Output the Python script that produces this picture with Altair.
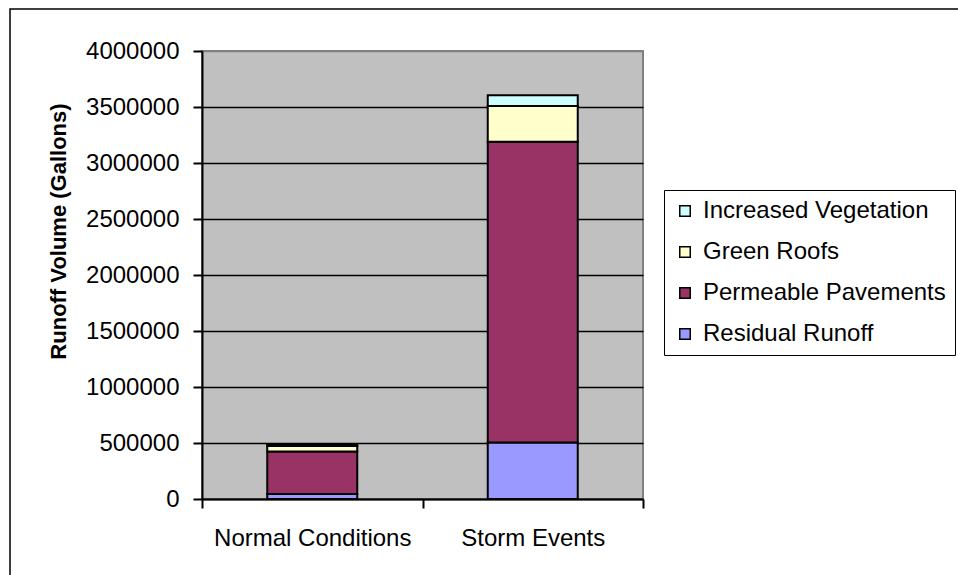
import altair as alt
import pandas as pd

# Runoff volumes (gallons) managed by each practice, per scenario
categories = ["Normal Conditions", "Storm Events"]
residual_runoff = [45000, 505000]
permeable_pavements = [380000, 2685000]
green_roofs = [48000, 320000]
increased_vegetation = [17000, 95000]

# stacking order, bottom to top
series = ["Residual Runoff", "Permeable Pavements", "Green Roofs", "Increased Vegetation"]
series_values = [residual_runoff, permeable_pavements, green_roofs, increased_vegetation]

# legend order, top to bottom, with fills
legend_order = ["Increased Vegetation", "Green Roofs", "Permeable Pavements", "Residual Runoff"]
legend_colors = ["#CCFFFF", "#FFFFCC", "#993366", "#9999FF"]

y_ticks = [0, 500000, 1000000, 1500000, 2000000, 2500000, 3000000, 3500000, 4000000]

rows = []
for rank, (name, vals) in enumerate(zip(series, series_values)):
    for cat, v in zip(categories, vals):
        rows.append({"condition": cat, "measure": name, "volume": v, "stack_rank": rank})
df = pd.DataFrame(rows)

FONT = "Liberation Sans, Arial, sans-serif"

bars = alt.Chart(df).mark_bar(size=90, stroke="black", strokeWidth=2).encode(
    x=alt.X(
        "condition:N",
        sort=categories,
        scale=alt.Scale(paddingInner=0, paddingOuter=0),
        axis=alt.Axis(
            title=None,
            labelAngle=0,
            labelFontSize=24,
            labelFont=FONT,
            labelColor="black",
            labelLimit=400,
            labelPadding=18,
            tickBand="extent",
            tickSize=9,
            tickColor="black",
            tickWidth=2,
            domainColor="black",
            domainWidth=2,
            grid=False,
        ),
    ),
    y=alt.Y(
        "volume:Q",
        stack="zero",
        scale=alt.Scale(domain=[0, 4000000], nice=False),
        axis=alt.Axis(
            title="Runoff Volume (Gallons)",
            titleFont=FONT,
            titleFontSize=22,
            titleFontWeight="bold",
            titleColor="black",
            titleAngle=270,
            titleAlign="center",
            titleBaseline="middle",
            titleX=-144,
            titleY=180,
            values=y_ticks,
            format="d",
            labelFontSize=24,
            labelFont=FONT,
            labelColor="black",
            labelPadding=14,
            tickSize=9,
            tickColor="black",
            tickWidth=2,
            domainColor="black",
            domainWidth=2,
            grid=True,
            gridColor={
                "condition": {"test": "datum.value >= 4000000", "value": "#808080"},
                "value": "black",
            },
            gridWidth=1.5,
        ),
    ),
    color=alt.Color(
        "measure:N",
        scale=alt.Scale(domain=legend_order, range=legend_colors),
        legend=alt.Legend(
            title=None,
            orient="none",
            legendX=462,
            legendY=139,
            symbolType="square",
            symbolSize=110,
            symbolStrokeColor="black",
            symbolStrokeWidth=1.5,
            symbolOpacity=1,
            labelFont=FONT,
            labelFontSize=24,
            labelColor="black",
            labelOffset=6,
            labelLimit=400,
            rowPadding=17,
            padding=9,
            strokeColor="black",
            fillColor="white",
        ),
    ),
    order=alt.Order("stack_rank:Q", sort="ascending"),
)

# outer chart border
frame = alt.Chart(pd.DataFrame({"k": [0]})).mark_rect(
    fillOpacity=0, stroke="black", strokeWidth=1.5
).encode(
    x=alt.value(-192), x2=alt.value(768), y=alt.value(-42), y2=alt.value(539)
)

chart = alt.layer(frame, bars).properties(
    width=441,
    height=448,
    autosize=alt.AutoSizeParams(type="none"),
    padding={"left": 202, "top": 51, "right": 315, "bottom": 76},
    background="white",
).configure_view(
    fill="#C0C0C0", stroke="#808080", strokeWidth=2
)

chart.save("out.html", embed_options={"renderer": "svg", "actions": False})
